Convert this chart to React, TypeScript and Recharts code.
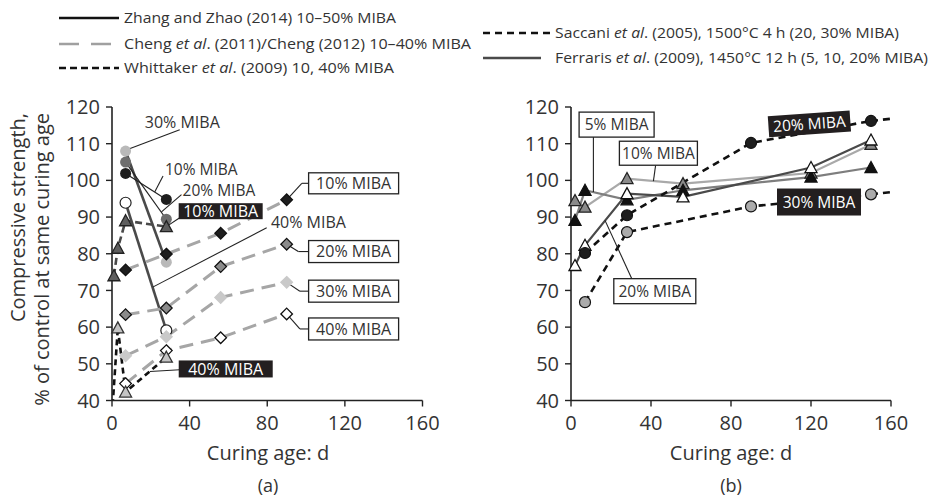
import React from 'react';
import { ComposedChart, Line, XAxis, YAxis, ReferenceLine, ReferenceDot } from 'recharts';

const FONT = "'Open Sans', 'Noto Sans', sans-serif";
const INK = '#222';
const TXT = '#333';

// ---------- Panel (a) data ----------
const zhangDays = [7, 28];
const zhang10 = [101.9, 94.8];
const zhang20 = [105.0, 89.4];
const zhang30 = [108.0, 77.7];
const zhang40 = [93.9, 59.1];

const chengDays = [7, 28, 56, 90];
const cheng10 = [75.6, 79.9, 85.6, 94.7];
const cheng20 = [63.4, 65.2, 76.5, 82.6];
const cheng30 = [52.2, 57.4, 68.1, 72.2];
const cheng40 = [44.6, 53.6, 57.1, 63.6];

const whit10Days = [1, 3, 7, 28];
const whit10 = [74.0, 81.5, 89.0, 87.4];
const whit40Days = [3, 7, 28];
const whit40 = [59.8, 42.3, 51.8];
const whit40TailDays = [0, 3];
const whit40Tail = [36.0, 59.8];

// ---------- Panel (b) data ----------
const ferrDays = [2, 7, 28, 56, 120, 150];
const ferr5 = [89.1, 97.3, 94.7, 97.3, 100.9, 103.5];
const ferr10 = [94.5, 92.7, 100.5, 99.1, 102.0, 109.8];
const ferr20 = [76.8, 82.3, 96.4, 95.5, 103.5, 111.0];

const sacDays = [7, 28, 90, 150];
const sac20 = [80.2, 90.5, 110.2, 116.2];
const sac30 = [66.8, 85.9, 92.9, 96.2];
const sacTailDays = [150, 160];
const sac20Tail = [116.2, 116.8];
const sac30Tail = [96.2, 96.8];

// ---------- Axes ----------
const xTicks = [0, 40, 80, 120, 160];
const yTicks = [40, 50, 60, 70, 80, 90, 100, 110, 120];

const pts = (days: number[], vals: number[]) => days.map((d, i) => ({ d, v: vals[i] }));

// ---------- markers ----------
type Mk = { shape: 'circle' | 'diamond' | 'triangle' | 'none'; fill: string; stroke: string };
const makeDot = (m: Mk) => (p: any) => {
  const { cx, cy, index } = p;
  const k = `mk-${index}-${cx}-${cy}`;
  if (m.shape === 'none' || cx == null || cy == null) return <g key={k} />;
  if (m.shape === 'circle')
    return <circle key={k} cx={cx} cy={cy} r={5.5} fill={m.fill} stroke={m.stroke} strokeWidth={1.2} />;
  if (m.shape === 'diamond') {
    const s = 5.8;
    return <polygon key={k} points={`${cx},${cy - s} ${cx + s},${cy} ${cx},${cy + s} ${cx - s},${cy}`} fill={m.fill} stroke={m.stroke} strokeWidth={1.3} />;
  }
  const h = 5.5;
  return <polygon key={k} points={`${cx},${cy - h - 0.5} ${cx + h + 0.5},${cy + h - 0.5} ${cx - h - 0.5},${cy + h - 0.5}`} fill={m.fill} stroke={m.stroke} strokeWidth={1.3} />;
};

type Series = { data: { d: number; v: number }[]; stroke: string; width: number; dash?: string; mk: Mk };

const NONE: Mk = { shape: 'none', fill: 'none', stroke: 'none' };

const seriesA: Series[] = [
  { data: pts(zhangDays, zhang30), stroke: '#4a4a4a', width: 2.6, mk: { shape: 'circle', fill: '#b9b9b9', stroke: 'none' } },
  { data: pts(zhangDays, zhang20), stroke: INK, width: 1.2, mk: { shape: 'circle', fill: '#6e6e6e', stroke: 'none' } },
  { data: pts(zhangDays, zhang10), stroke: INK, width: 1.2, mk: { shape: 'circle', fill: '#1e1e1e', stroke: 'none' } },
  { data: pts(zhangDays, zhang40), stroke: '#4a4a4a', width: 2.6, mk: { shape: 'circle', fill: '#ffffff', stroke: INK } },
  { data: pts(chengDays, cheng40), stroke: '#a6a6a6', width: 3, dash: '14 8', mk: { shape: 'diamond', fill: '#ffffff', stroke: '#111' } },
  { data: pts(chengDays, cheng30), stroke: '#a6a6a6', width: 3, dash: '14 8', mk: { shape: 'diamond', fill: '#c9c9c9', stroke: '#c9c9c9' } },
  { data: pts(chengDays, cheng20), stroke: '#a6a6a6', width: 3, dash: '14 8', mk: { shape: 'diamond', fill: '#8a8a8a', stroke: '#111' } },
  { data: pts(chengDays, cheng10), stroke: '#a6a6a6', width: 3, dash: '14 8', mk: { shape: 'diamond', fill: '#1e1e1e', stroke: '#111' } },
  { data: pts(whit40TailDays, whit40Tail), stroke: '#111', width: 2.6, dash: '6 4', mk: NONE },
  { data: pts(whit40Days, whit40), stroke: '#111', width: 2.6, dash: '6 4', mk: { shape: 'triangle', fill: '#c4c4c4', stroke: '#333' } },
  { data: pts(whit10Days, whit10), stroke: '#4a4a4a', width: 2.6, dash: '7 4', mk: { shape: 'triangle', fill: '#5e5e5e', stroke: '#222' } },
];

const seriesB: Series[] = [
  { data: pts(ferrDays, ferr10), stroke: '#a9a9a9', width: 2.2, mk: { shape: 'triangle', fill: '#8a8a8a', stroke: '#222' } },
  { data: pts(ferrDays, ferr5), stroke: '#7e7e7e', width: 2.2, mk: { shape: 'triangle', fill: '#111', stroke: '#111' } },
  { data: pts(ferrDays, ferr20), stroke: '#4a4a4a', width: 2.2, mk: { shape: 'triangle', fill: '#ffffff', stroke: '#111' } },
  { data: pts(sacTailDays, sac30Tail), stroke: '#111', width: 2.6, dash: '7 5', mk: NONE },
  { data: pts(sacTailDays, sac20Tail), stroke: '#111', width: 2.6, dash: '7 5', mk: NONE },
  { data: pts(sacDays, sac30), stroke: '#111', width: 2.6, dash: '7 5', mk: { shape: 'circle', fill: '#ababab', stroke: '#111' } },
  { data: pts(sacDays, sac20), stroke: '#111', width: 2.6, dash: '7 5', mk: { shape: 'circle', fill: '#1e1e1e', stroke: '#111' } },
];

// ---------- annotations (data coordinates) ----------
type Seg = [number, number, number, number];
type Lab = { x: number; y: number; text: string; kind: 'plain' | 'box' | 'dark'; w?: number; h?: number; rot?: number; fs?: number };

const calloutsA: Seg[] = [
  [7.3, 108.3, 34.9, 113.8],
  [26.3, 101.2, 22, 96.8],
  [35.8, 96.1, 25.5, 91.4],
  [34.9, 89.8, 28, 87.4],
  [79.7, 87.1, 21, 70.9],
  [90, 94.7, 97.8, 99.2], [97.8, 99.2, 101.2, 99.2],
  [90, 82.6, 96, 80.6], [96, 80.6, 101.2, 80.6],
  [90, 72.2, 96.8, 69.8], [96.8, 69.8, 101.2, 69.8],
  [90, 63.6, 96.8, 59.5], [96.8, 59.5, 101.2, 59.5],
  [34.9, 48.4, 19.5, 47.9],
];
const labelsA: Lab[] = [
  { x: 36.2, y: 115.9, text: '30% MIBA', kind: 'plain' },
  { x: 46, y: 103.0, text: '10% MIBA', kind: 'plain', fs: 15.5 },
  { x: 55.1, y: 97.3, text: '20% MIBA', kind: 'plain', fs: 15.5 },
  { x: 56, y: 91.6, text: '10% MIBA', kind: 'dark', w: 84, h: 16 },
  { x: 101.2, y: 88.5, text: '40% MIBA', kind: 'plain' },
  { x: 124.5, y: 99.2, text: '10% MIBA', kind: 'box', w: 90, h: 21 },
  { x: 124.5, y: 80.6, text: '20% MIBA', kind: 'box', w: 90, h: 22 },
  { x: 124.5, y: 69.8, text: '30% MIBA', kind: 'box', w: 90, h: 22 },
  { x: 124.5, y: 59.5, text: '40% MIBA', kind: 'box', w: 90, h: 22 },
  { x: 58.6, y: 48.6, text: '40% MIBA', kind: 'dark', w: 94, h: 17 },
];
const calloutsB: Seg[] = [
  [11.2, 111.8, 11.2, 96.8],
  [42.3, 104.1, 41.2, 99.8],
  [30.4, 73.2, 17, 89.1],
];
const labelsB: Lab[] = [
  { x: 22.8, y: 115.2, text: '5% MIBA', kind: 'box', w: 75, h: 25, fs: 15.5 },
  { x: 43.7, y: 107.4, text: '10% MIBA', kind: 'box', w: 78, h: 24, fs: 15.5 },
  { x: 41.9, y: 69.8, text: '20% MIBA', kind: 'box', w: 82, h: 25, fs: 15.5 },
  { x: 119.2, y: 115.4, text: '20% MIBA', kind: 'dark', w: 82, h: 21, rot: -4, fs: 15.5 },
  { x: 124, y: 94.1, text: '30% MIBA', kind: 'dark', w: 84, h: 27, fs: 15.5 },
];

const labelShape = (lab: Lab) => (p: any) => {
  const { cx, cy } = p;
  const w = lab.w || 80;
  const h = lab.h || 20;
  return (
    <g transform={`translate(${cx},${cy}) rotate(${lab.rot || 0})`}>
      {lab.kind !== 'plain' && (
        <rect x={-w / 2} y={-h / 2} width={w} height={h}
          fill={lab.kind === 'dark' ? '#231f20' : '#fff'}
          stroke={lab.kind === 'box' ? INK : 'none'} strokeWidth={1.3} />
      )}
      <text x={0} y={0} dy="0.36em" textAnchor="middle" fontSize={lab.fs || 16}
        fill={lab.kind === 'dark' ? '#fff' : TXT} fontFamily={FONT}>{lab.text}</text>
    </g>
  );
};

const tickStyle = { fontSize: 20, fill: TXT, fontFamily: FONT };

function Panel({ series, callouts, labels, margin }: { series: Series[]; callouts: Seg[]; labels: Lab[]; margin: any }) {
  const w = margin.width;
  return (
    <ComposedChart width={w} height={497} margin={margin.m}>
      <XAxis type="number" dataKey="d" domain={[0, 160]} ticks={xTicks} allowDecimals={false}
        tick={tickStyle} tickSize={6} tickMargin={9} height={30}
        axisLine={{ stroke: INK, strokeWidth: 1.6 }} tickLine={{ stroke: INK, strokeWidth: 1.4 }} />
      <YAxis type="number" domain={[40, 120]} ticks={yTicks} allowDataOverflow width={60}
        tick={tickStyle} tickSize={6} tickMargin={6}
        axisLine={{ stroke: INK, strokeWidth: 1.6 }} tickLine={{ stroke: INK, strokeWidth: 1.4 }} />
      {series.map((s, i) => (
        <Line key={`s${i}`} data={s.data} dataKey="v" type="linear" stroke={s.stroke} strokeWidth={s.width}
          strokeDasharray={s.dash} dot={makeDot(s.mk)} activeDot={false} isAnimationActive={false}
          legendType="none" />
      ))}
      {callouts.map((c, i) => (
        <ReferenceLine key={`c${i}`} segment={[{ x: c[0], y: c[1] }, { x: c[2], y: c[3] }]}
          stroke={INK} strokeWidth={1.1} ifOverflow="visible" />
      ))}
      {labels.map((l, i) => (
        <ReferenceDot key={`l${i}`} x={l.x} y={l.y} r={0} ifOverflow="visible" shape={labelShape(l)} />
      ))}
    </ComposedChart>
  );
}

function Legend() {
  const fs = 14;
  const items = [
    { x1: 59, x2: 119, y: 18, stroke: '#111', dash: undefined, tx: 124, len: 272, parts: [['Zhang and Zhao (2014) 10–50% MIBA', false]] },
    { x1: 59, x2: 119, y: 44, stroke: '#a0a0a0', dash: '20 12', tx: 124, len: 347, parts: [['Cheng ', false], ['et al', true], ['. (2011)/Cheng (2012) 10–40% MIBA', false]] },
    { x1: 59, x2: 119, y: 68, stroke: '#111', dash: '7 4', tx: 124, len: 270, parts: [['Whittaker ', false], ['et al', true], ['. (2009) 10, 40% MIBA', false]] },
    { x1: 483, x2: 550, y: 33, stroke: '#111', dash: '7 5', tx: 555, len: 344, parts: [['Saccani ', false], ['et al', true], ['. (2005), 1500°C 4 h (20, 30% MIBA)', false]] },
    { x1: 483, x2: 541, y: 58, stroke: '#4a4a4a', dash: undefined, tx: 555, len: 373, parts: [['Ferraris ', false], ['et al', true], ['. (2009), 1450°C 12 h (5, 10, 20% MIBA)', false]] },
  ];
  return (
    <g>
      {items.map((it, i) => (
        <g key={i}>
          <line x1={it.x1} x2={it.x2} y1={it.y} y2={it.y} stroke={it.stroke} strokeWidth={2.6} strokeDasharray={it.dash} />
          <text x={it.tx} y={it.y} dy="0.36em" fontSize={fs} fill={TXT} fontFamily={FONT}
            textLength={it.len} lengthAdjust="spacingAndGlyphs">
            {it.parts.map((p, j) => (
              <tspan key={j} fontStyle={p[1] ? 'italic' : 'normal'}>{p[0] as string}</tspan>
            ))}
          </text>
        </g>
      ))}
    </g>
  );
}

export default function App() {
  return (
    <div style={{ position: 'absolute', left: 0, top: 0, width: 930, height: 497, background: '#fff', overflow: 'hidden' }}>
      <div style={{ position: 'absolute', left: 0, top: 0 }}>
        <Panel series={seriesA} callouts={calloutsA} labels={labelsA}
          margin={{ width: 450, m: { top: 107, right: 27.5, bottom: 66.5, left: 52 } }} />
      </div>
      <div style={{ position: 'absolute', left: 460, top: 0 }}>
        <Panel series={seriesB} callouts={calloutsB} labels={labelsB}
          margin={{ width: 470, m: { top: 107, right: 39, bottom: 66.5, left: 51 } }} />
      </div>
      <svg width={930} height={497} style={{ position: 'absolute', left: 0, top: 0, pointerEvents: 'none' }}>
        <Legend />
        <text transform="translate(25,113) rotate(-90)" textAnchor="end" fontSize={20} fill={TXT} fontFamily={FONT}>Compressive strength,</text>
        <text transform="translate(49,113) rotate(-90)" textAnchor="end" fontSize={20} fill={TXT} fontFamily={FONT}>% of control at same curing age</text>
        <text x={268} y={460} textAnchor="middle" fontSize={20} fill={TXT} fontFamily={FONT}>Curing age: d</text>
        <text x={731} y={460} textAnchor="middle" fontSize={20} fill={TXT} fontFamily={FONT}>Curing age: d</text>
        <text x={268} y={492} textAnchor="middle" fontSize={18} fill={TXT} fontFamily={FONT}>(a)</text>
        <text x={731} y={492} textAnchor="middle" fontSize={18} fill={TXT} fontFamily={FONT}>(b)</text>
      </svg>
    </div>
  );
}
